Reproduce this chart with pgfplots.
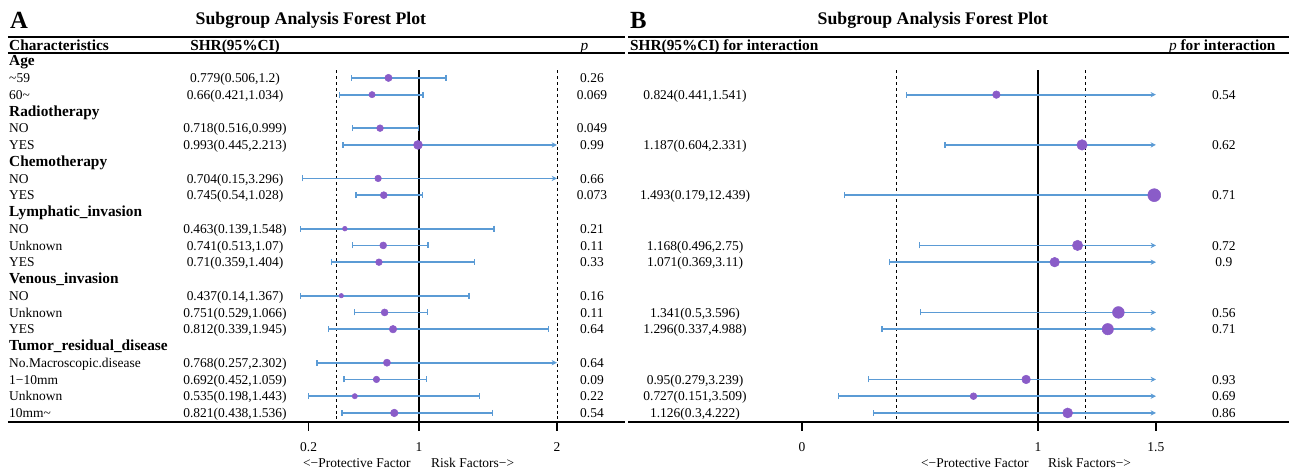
\documentclass[border=0pt]{standalone}
\usepackage{pgfplots}
\pgfplotsset{compat=1.18}
\usepackage{pgfplotstable}
\usepackage{fontspec}
\setmainfont{Liberation Serif}
\usetikzlibrary{arrows.meta}
\definecolor{ciblue}{HTML}{5B9BD5}
\definecolor{dotpurple}{HTML}{8A5CC8}

\pgfplotstableread{
row hr lo hi
-2 0.779 0.506 1.2
-3 0.66 0.421 1.034
-5 0.718 0.516 0.999
-6 0.993 0.445 2.213
-8 0.704 0.15 3.296
-9 0.745 0.54 1.028
-11 0.463 0.139 1.548
-12 0.741 0.513 1.07
-13 0.71 0.359 1.404
-15 0.437 0.14 1.367
-16 0.751 0.529 1.066
-17 0.812 0.339 1.945
-19 0.768 0.257 2.302
-20 0.692 0.452 1.059
-21 0.535 0.198 1.443
-22 0.821 0.438 1.536
}\leftdata

\pgfplotstableread{
row hr lo hi
-3 0.824 0.441 1.541
-6 1.187 0.604 2.331
-9 1.493 0.179 12.439
-12 1.168 0.496 2.75
-13 1.071 0.369 3.11
-16 1.341 0.5 3.596
-17 1.296 0.337 4.988
-20 0.95 0.279 3.239
-21 0.727 0.151 3.509
-22 1.126 0.3 4.222
}\rightdata

\tikzset{
  lab/.style={font=\fontsize{10.1}{12}\selectfont, text height=1.55ex, text depth=0.35ex, inner sep=0pt, yshift=-0.8pt},
  hdr/.style={font=\bfseries\fontsize{11.5}{13}\selectfont, text height=1.6ex, text depth=0.4ex, inner sep=0pt, yshift=-0.8pt},
  ttl/.style={font=\bfseries\fontsize{13.3}{15}\selectfont, inner sep=0pt},
  pan/.style={font=\bfseries\fontsize{18.5}{20}\selectfont, inner sep=0pt},
}

\pgfplotsset{
  forest/.style={
    scale only axis, height=316.5pt,
    ymin=-22.54, ymax=2.65,
    axis x line*=bottom, hide y axis,
    clip=false,
    tick align=outside, major tick length=6.75pt,
    x axis line style={line width=1.1pt, -},
    xtick style={line width=1.1pt, black},
    xticklabel style={font=\fontsize{10.1}{12}\selectfont, text height=1.5ex, text depth=0.25ex, yshift=-5pt},
    /pgf/number format/assume math mode=true,
  },
  ci/.style={ciblue, line width=1.3pt},
  dots/.style={scatter, only marks, mark=*,
    scatter/use mapped color={draw=dotpurple, fill=dotpurple},
    visualization depends on={(0.375+3*\thisrow{hr}) \as \msize},
    scatter/@pre marker code/.append style={/tikz/mark size=\msize}},
}

\begin{document}
\begin{tikzpicture}[x=0.75pt,y=0.75pt]
\useasboundingbox (0,-48) rectangle (1289,422);
% ---------------- Panel A ----------------
\begin{axis}[forest, at={(6pt,0pt)}, anchor=south west, width=462.75pt,
  xmin=-1.978, xmax=2.493, xtick={0.2,1,2}, xticklabels={0.2,1,2}]
\addplot[black, line width=1.1pt] coordinates {(1,-1.55) (1,-22.54)};
\addplot[black, line width=0.6pt, dash pattern=on 2.2pt off 2.2pt] coordinates {(0.4,-1.55) (0.4,-22.54)};
\addplot[black, line width=0.6pt, dash pattern=on 2.2pt off 2.2pt] coordinates {(2,-1.55) (2,-22.54)};
\addplot[ci, {Bar[width=4.5pt,line width=0.9pt]}-{Bar[width=4.5pt,line width=0.9pt]},
  quiver={u={\thisrow{hi}-\thisrow{lo}}, v=0},
  y filter/.expression={\thisrow{hi}>2 ? nan : y}] table[x=lo, y=row] {\leftdata};
\addplot[ci, {Bar[width=4.5pt,line width=0.9pt]}-{Stealth[length=4pt,width=4pt]},
  quiver={u={2-\thisrow{lo}}, v=0},
  y filter/.expression={\thisrow{hi}>2 ? y : nan}] table[x=lo, y=row] {\leftdata};
\addplot[dots] table[x=hr, y=row] {\leftdata};
% header lines
\draw[line width=1.5pt] (axis cs:-1.978,0.436) -- (axis cs:2.493,0.436);
\draw[line width=1.5pt] (axis cs:-1.978,-0.521) -- (axis cs:2.493,-0.521);
\node[pan, anchor=west] at (axis cs:-1.964,1.45) {A};
\node[ttl] at (axis cs:0.217,1.42) {Subgroup Analysis Forest Plot};
\node[hdr, anchor=west] at (axis cs:-1.971,-0.1) {Characteristics};
\node[hdr] at (axis cs:-0.333,-0.1) {SHR(95\%CI)};
\node[lab, font=\itshape\fontsize{11.5}{13}\selectfont] at (axis cs:2.2,-0.1) {p};
% row labels
\node[hdr, anchor=west] at (axis cs:-1.971,-1) {Age};
\node[lab, anchor=west] at (axis cs:-1.971,-2) {\textasciitilde 59};
\node[lab, anchor=west] at (axis cs:-1.971,-3) {60\textasciitilde};
\node[hdr, anchor=west] at (axis cs:-1.971,-4) {Radiotherapy};
\node[lab, anchor=west] at (axis cs:-1.971,-5) {NO};
\node[lab, anchor=west] at (axis cs:-1.971,-6) {YES};
\node[hdr, anchor=west] at (axis cs:-1.971,-7) {Chemotherapy};
\node[lab, anchor=west] at (axis cs:-1.971,-8) {NO};
\node[lab, anchor=west] at (axis cs:-1.971,-9) {YES};
\node[hdr, anchor=west] at (axis cs:-1.971,-10) {Lymphatic\_invasion};
\node[lab, anchor=west] at (axis cs:-1.971,-11) {NO};
\node[lab, anchor=west] at (axis cs:-1.971,-12) {Unknown};
\node[lab, anchor=west] at (axis cs:-1.971,-13) {YES};
\node[hdr, anchor=west] at (axis cs:-1.971,-14) {Venous\_invasion};
\node[lab, anchor=west] at (axis cs:-1.971,-15) {NO};
\node[lab, anchor=west] at (axis cs:-1.971,-16) {Unknown};
\node[lab, anchor=west] at (axis cs:-1.971,-17) {YES};
\node[hdr, anchor=west] at (axis cs:-1.971,-18) {Tumor\_residual\_disease};
\node[lab, anchor=west] at (axis cs:-1.971,-19) {No.Macroscopic.disease};
\node[lab, anchor=west] at (axis cs:-1.971,-20) {1−10mm};
\node[lab, anchor=west] at (axis cs:-1.971,-21) {Unknown};
\node[lab, anchor=west] at (axis cs:-1.971,-22) {10mm\textasciitilde};
% SHR column
\node[lab] at (axis cs:-0.333,-2) {0.779(0.506,1.2)};
\node[lab] at (axis cs:-0.333,-3) {0.66(0.421,1.034)};
\node[lab] at (axis cs:-0.333,-5) {0.718(0.516,0.999)};
\node[lab] at (axis cs:-0.333,-6) {0.993(0.445,2.213)};
\node[lab] at (axis cs:-0.333,-8) {0.704(0.15,3.296)};
\node[lab] at (axis cs:-0.333,-9) {0.745(0.54,1.028)};
\node[lab] at (axis cs:-0.333,-11) {0.463(0.139,1.548)};
\node[lab] at (axis cs:-0.333,-12) {0.741(0.513,1.07)};
\node[lab] at (axis cs:-0.333,-13) {0.71(0.359,1.404)};
\node[lab] at (axis cs:-0.333,-15) {0.437(0.14,1.367)};
\node[lab] at (axis cs:-0.333,-16) {0.751(0.529,1.066)};
\node[lab] at (axis cs:-0.333,-17) {0.812(0.339,1.945)};
\node[lab] at (axis cs:-0.333,-19) {0.768(0.257,2.302)};
\node[lab] at (axis cs:-0.333,-20) {0.692(0.452,1.059)};
\node[lab] at (axis cs:-0.333,-21) {0.535(0.198,1.443)};
\node[lab] at (axis cs:-0.333,-22) {0.821(0.438,1.536)};
% p column
\node[lab] at (axis cs:2.254,-2) {0.26};
\node[lab] at (axis cs:2.254,-3) {0.069};
\node[lab] at (axis cs:2.254,-5) {0.049};
\node[lab] at (axis cs:2.254,-6) {0.99};
\node[lab] at (axis cs:2.254,-8) {0.66};
\node[lab] at (axis cs:2.254,-9) {0.073};
\node[lab] at (axis cs:2.254,-11) {0.21};
\node[lab] at (axis cs:2.254,-12) {0.11};
\node[lab] at (axis cs:2.254,-13) {0.33};
\node[lab] at (axis cs:2.254,-15) {0.16};
\node[lab] at (axis cs:2.254,-16) {0.11};
\node[lab] at (axis cs:2.254,-17) {0.64};
\node[lab] at (axis cs:2.254,-19) {0.64};
\node[lab] at (axis cs:2.254,-20) {0.09};
\node[lab] at (axis cs:2.254,-21) {0.22};
\node[lab] at (axis cs:2.254,-22) {0.54};
% bottom caption
\node[lab, anchor=east] at (axis cs:0.942,-25.0) {<−Protective Factor};
\node[lab, anchor=west] at (axis cs:1.087,-25.0) {Risk Factors−>};
\end{axis}
% ---------------- Panel B ----------------
\begin{axis}[forest, at={(471pt,0pt)}, anchor=south west, width=495.75pt,
  xmin=-0.737, xmax=2.064, xtick={0,1,1.5}, xticklabels={0,1,1.5}]
\addplot[black, line width=1.1pt] coordinates {(1,-1.55) (1,-22.54)};
\addplot[black, line width=0.6pt, dash pattern=on 2.2pt off 2.2pt] coordinates {(0.4,-1.55) (0.4,-22.54)};
\addplot[black, line width=0.6pt, dash pattern=on 2.2pt off 2.2pt] coordinates {(1.2,-1.55) (1.2,-22.54)};
\addplot[ci, {Bar[width=4.5pt,line width=0.9pt]}-{Stealth[length=4pt,width=4pt]},
  quiver={u={1.5-\thisrow{lo}}, v=0}] table[x=lo, y=row] {\rightdata};
\addplot[dots] table[x=hr, y=row] {\rightdata};
\draw[line width=1.5pt] (axis cs:-0.737,0.436) -- (axis cs:2.064,0.436);
\draw[line width=1.5pt] (axis cs:-0.737,-0.521) -- (axis cs:2.064,-0.521);
\node[pan, anchor=west] at (axis cs:-0.729,1.45) {B};
\node[ttl] at (axis cs:0.555,1.42) {Subgroup Analysis Forest Plot};
\node[hdr, anchor=west] at (axis cs:-0.729,-0.1) {SHR(95\%CI) for interaction};
\node[hdr, anchor=east] at (axis cs:2.008,-0.1) {\textit{\mdseries p} for interaction};
\node[lab] at (axis cs:-0.453,-3) {0.824(0.441,1.541)};
\node[lab] at (axis cs:-0.453,-6) {1.187(0.604,2.331)};
\node[lab] at (axis cs:-0.453,-9) {1.493(0.179,12.439)};
\node[lab] at (axis cs:-0.453,-12) {1.168(0.496,2.75)};
\node[lab] at (axis cs:-0.453,-13) {1.071(0.369,3.11)};
\node[lab] at (axis cs:-0.453,-16) {1.341(0.5,3.596)};
\node[lab] at (axis cs:-0.453,-17) {1.296(0.337,4.988)};
\node[lab] at (axis cs:-0.453,-20) {0.95(0.279,3.239)};
\node[lab] at (axis cs:-0.453,-21) {0.727(0.151,3.509)};
\node[lab] at (axis cs:-0.453,-22) {1.126(0.3,4.222)};
\node[lab] at (axis cs:1.788,-3) {0.54};
\node[lab] at (axis cs:1.788,-6) {0.62};
\node[lab] at (axis cs:1.788,-9) {0.71};
\node[lab] at (axis cs:1.788,-12) {0.72};
\node[lab] at (axis cs:1.788,-13) {0.9};
\node[lab] at (axis cs:1.788,-16) {0.56};
\node[lab] at (axis cs:1.788,-17) {0.71};
\node[lab] at (axis cs:1.788,-20) {0.93};
\node[lab] at (axis cs:1.788,-21) {0.69};
\node[lab] at (axis cs:1.788,-22) {0.86};
\node[lab, anchor=east] at (axis cs:0.962,-25.0) {<−Protective Factor};
\node[lab, anchor=west] at (axis cs:1.042,-25.0) {Risk Factors−>};
\end{axis}
\end{tikzpicture}
\end{document}
